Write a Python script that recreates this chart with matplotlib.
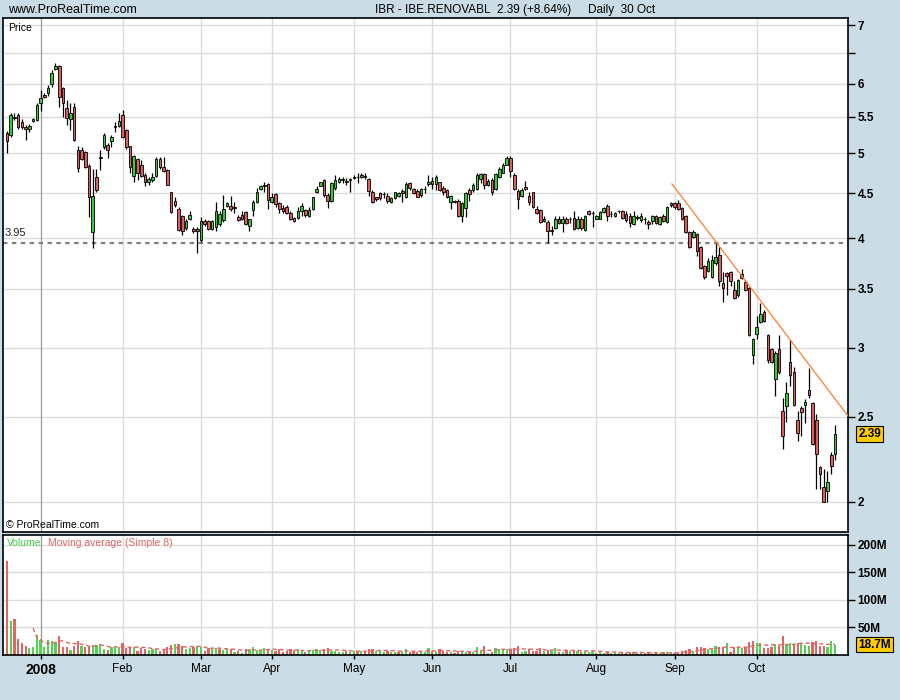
import matplotlib
matplotlib.use("Agg")
import matplotlib.pyplot as plt
import numpy as np
import pandas as pd

# ---------------- data ----------------
opens = [5.27,5.24,5.48,5.53,5.43,5.36,5.33,5.44,5.46,5.70,5.83,5.85,5.99,6.23,6.28,5.94,5.63,5.47,5.64,5.04,
         5.04,5.01,4.83,4.06,4.70,4.95,5.08,5.11,5.16,5.35,5.37,5.53,5.31,5.09,4.71,4.92,4.85,4.72,4.63,4.66,
         4.71,4.92,4.82,4.78,4.51,4.41,4.32,4.24,4.11,4.21,4.10,4.10,3.98,4.18,4.18,4.10,4.12,4.15,4.19,4.35,
         4.35,4.34,4.23,4.25,4.28,4.13,4.31,4.40,4.55,4.59,4.61,4.40,4.49,4.39,4.33,4.34,4.27,4.22,4.22,4.30,
         4.31,4.24,4.32,4.52,4.59,4.66,4.48,4.41,4.56,4.64,4.66,4.65,4.66,4.68,4.69,4.70,4.71,4.67,4.52,4.45,
         4.50,4.49,4.47,4.40,4.44,4.47,4.53,4.45,4.62,4.55,4.53,4.48,4.55,4.61,4.65,4.61,4.63,4.56,4.54,4.40,
         4.41,4.41,4.24,4.33,4.54,4.54,4.55,4.67,4.73,4.60,4.66,4.55,4.69,4.75,4.85,4.93,4.72,4.53,4.47,4.57,
         4.47,4.51,4.32,4.31,4.18,4.17,4.08,4.11,4.21,4.16,4.21,4.21,4.22,4.11,4.21,4.09,4.29,4.27,4.21,4.21,
         4.28,4.35,4.26,4.24,4.29,4.30,4.26,4.24,4.15,4.22,4.19,4.20,4.17,4.18,4.24,4.15,4.24,4.17,4.36,4.38,
         4.39,4.33,4.24,4.06,4.01,4.04,3.91,3.72,3.67,3.61,3.75,3.83,3.55,3.65,3.66,3.49,3.44,3.64,3.56,3.51,
         2.94,3.11,3.21,3.29,3.10,2.99,2.76,2.99,2.54,2.57,2.89,2.81,2.48,2.56,2.58,2.68,2.59,2.48,2.19,2.08,
         2.06,2.26,2.27]
highs = [5.30,5.56,5.56,5.55,5.47,5.39,5.40,5.49,5.70,5.90,5.85,5.98,6.22,6.34,6.30,5.95,5.75,5.70,5.70,5.10,
         5.08,5.03,4.86,4.80,4.80,5.04,5.27,5.13,5.24,5.43,5.55,5.60,5.33,5.10,4.98,4.93,4.91,4.74,4.70,4.74,
         4.95,4.95,4.95,4.79,4.52,4.46,4.34,4.25,4.20,4.29,4.12,4.12,4.23,4.21,4.19,4.19,4.40,4.29,4.48,4.40,
         4.47,4.40,4.25,4.30,4.30,4.21,4.42,4.56,4.60,4.63,4.62,4.50,4.50,4.40,4.36,4.36,4.29,4.23,4.34,4.38,
         4.32,4.34,4.46,4.58,4.64,4.67,4.50,4.64,4.72,4.70,4.70,4.68,4.68,4.72,4.74,4.75,4.74,4.68,4.54,4.46,
         4.52,4.52,4.50,4.46,4.52,4.52,4.55,4.63,4.64,4.56,4.55,4.56,4.58,4.72,4.70,4.72,4.64,4.58,4.55,4.48,
         4.42,4.43,4.40,4.51,4.56,4.62,4.74,4.74,4.74,4.67,4.68,4.75,4.82,4.87,4.96,4.96,4.75,4.55,4.56,4.65,
         4.52,4.52,4.35,4.32,4.24,4.19,4.13,4.24,4.24,4.24,4.23,4.23,4.30,4.24,4.23,4.25,4.31,4.29,4.25,4.30,
         4.34,4.37,4.29,4.28,4.31,4.31,4.29,4.27,4.29,4.25,4.27,4.23,4.19,4.25,4.25,4.24,4.26,4.35,4.40,4.40,
         4.42,4.34,4.25,4.07,4.09,4.05,3.92,3.73,3.80,3.83,3.95,3.91,3.66,3.66,3.67,3.57,3.59,3.69,3.58,3.52,
         3.08,3.26,3.37,3.31,3.11,3.00,2.97,3.10,2.63,2.74,3.06,2.85,2.54,2.57,2.62,2.84,2.60,2.52,2.20,2.18,
         2.17,2.28,2.45]
lows = [5.00,5.22,5.45,5.32,5.32,5.18,5.28,5.43,5.44,5.58,5.78,5.81,5.95,6.22,5.65,5.50,5.38,5.31,5.16,4.76,
        4.91,4.81,4.23,3.90,4.52,4.78,5.06,4.93,5.08,5.29,5.36,5.20,5.06,4.74,4.63,4.66,4.70,4.58,4.60,4.64,
        4.70,4.80,4.76,4.60,4.27,4.34,4.08,4.03,4.09,4.19,4.05,3.85,3.96,4.13,4.09,4.09,4.07,4.13,4.17,4.34,
        4.29,4.27,4.18,4.19,4.14,4.08,4.24,4.39,4.54,4.51,4.32,4.39,4.34,4.27,4.27,4.26,4.19,4.17,4.21,4.24,
        4.23,4.23,4.31,4.50,4.58,4.46,4.33,4.40,4.54,4.62,4.62,4.60,4.52,4.67,4.62,4.68,4.67,4.47,4.39,4.41,
        4.42,4.44,4.39,4.39,4.43,4.46,4.40,4.44,4.54,4.49,4.45,4.46,4.50,4.58,4.55,4.54,4.53,4.48,4.44,4.32,
        4.38,4.23,4.17,4.23,4.41,4.52,4.54,4.62,4.55,4.58,4.48,4.54,4.68,4.74,4.84,4.70,4.54,4.32,4.46,4.54,
        4.36,4.33,4.26,4.16,4.17,3.95,4.03,4.10,4.15,4.06,4.15,4.16,4.09,4.10,4.09,4.07,4.25,4.12,4.20,4.20,
        4.27,4.18,4.23,4.23,4.27,4.21,4.17,4.12,4.14,4.19,4.17,4.15,4.10,4.15,4.15,4.14,4.17,4.16,4.34,4.32,
        4.31,4.19,4.05,3.90,4.00,3.82,3.69,3.59,3.66,3.60,3.73,3.53,3.38,3.44,3.53,3.41,3.43,3.59,3.48,3.09,
        2.87,3.07,3.20,3.21,2.88,2.88,2.64,2.80,2.30,2.47,2.71,2.57,2.35,2.38,2.46,2.63,2.32,2.07,2.07,2.00,
        2.00,2.15,2.23]
closes = [5.16,5.52,5.50,5.36,5.35,5.32,5.37,5.47,5.68,5.78,5.79,5.93,6.17,6.28,5.80,5.71,5.48,5.56,5.17,4.81,
          4.92,4.82,4.46,4.47,4.54,4.93,5.25,5.04,5.22,5.37,5.44,5.21,5.08,4.82,4.96,4.74,4.71,4.63,4.67,4.70,
          4.92,4.82,4.77,4.60,4.28,4.36,4.09,4.08,4.18,4.25,4.08,4.08,4.18,4.15,4.10,4.18,4.29,4.26,4.32,4.39,
          4.32,4.33,4.19,4.21,4.15,4.20,4.40,4.51,4.59,4.60,4.42,4.46,4.37,4.32,4.30,4.27,4.20,4.18,4.29,4.35,
          4.25,4.31,4.45,4.55,4.63,4.48,4.41,4.62,4.66,4.67,4.67,4.63,4.67,4.70,4.69,4.72,4.69,4.53,4.40,4.43,
          4.44,4.49,4.41,4.44,4.51,4.50,4.50,4.61,4.56,4.50,4.46,4.55,4.55,4.63,4.61,4.70,4.54,4.51,4.45,4.47,
          4.40,4.24,4.38,4.50,4.49,4.60,4.72,4.73,4.60,4.65,4.51,4.73,4.80,4.85,4.93,4.77,4.55,4.43,4.54,4.55,
          4.40,4.34,4.27,4.17,4.21,4.07,4.08,4.21,4.16,4.21,4.16,4.20,4.10,4.21,4.11,4.24,4.26,4.27,4.24,4.28,
          4.33,4.24,4.26,4.27,4.29,4.22,4.19,4.16,4.24,4.22,4.24,4.20,4.15,4.24,4.16,4.23,4.18,4.34,4.38,4.34,
          4.32,4.20,4.06,3.91,4.06,3.87,3.70,3.61,3.77,3.78,3.81,3.57,3.51,3.62,3.57,3.42,3.58,3.60,3.49,3.10,
          3.07,3.17,3.28,3.22,2.90,2.89,2.96,2.81,2.38,2.66,2.79,2.58,2.40,2.53,2.60,2.65,2.33,2.27,2.15,2.00,
          2.11,2.20,2.39]
volumes_m = [171,61,65,29,21,17,12,15,36,28,15,27,25,24,35,14,15,9,17,25,
             17,14,15,18,18,20,11,9,14,14,14,21,13,15,15,8,12,11,9,10,
             10,8,11,14,18,20,20,16,10,12,14,16,15,8,12,12,12,11,9,10,
             10,6,8,4,10,11,14,9,8,12,11,9,8,10,5,8,10,8,10,8,
             6,8,9,10,9,10,12,8,8,6,5,8,5,8,6,8,8,10,10,8,
             8,6,8,6,5,6,8,11,6,5,6,8,6,13,8,6,10,8,5,6,
             4,8,7,6,5,6,15,9,16,4,6,12,11,11,11,11,12,16,6,8,
             11,8,8,12,8,9,8,12,6,6,9,8,9,8,5,8,6,8,4,6,
             4,5,4,5,4,5,4,5,5,4,5,4,5,3,4,4,4,5,4,4,
             5,8,9,10,8,14,15,12,11,12,16,15,15,22,5,15,15,12,14,24,
             25,22,22,12,12,15,20,16,35,18,22,18,21,22,19,16,23,25,17,17,
             14,26,18.7]

month_labels = ["2008", "Feb", "Mar", "Apr", "May", "Jun", "Jul", "Aug", "Sep", "Oct"]
month_start_idx = [9, 31, 52, 71, 93, 114, 135, 158, 179, 201]

price_ticks = [2, 2.5, 3, 3.5, 4, 4.5, 5, 5.5, 6, 6.5, 7]
price_tick_labels = ["2", "2.5", "3", "3.5", "4", "4.5", "5", "5.5", "6", "", "7"]
vol_ticks = [50, 100, 150, 200]
vol_tick_labels = ["50M", "100M", "150M", "200M"]

support_level = 3.95
trend_x = [178.3, 225.4]
trend_y = [4.61, 2.51]

title_main = "IBR - IBE.RENOVABL"
title_price = "2.39 (+8.64%)"
title_period = "Daily  30 Oct"
last_price = 2.39
last_volume = 18.7

# ---------------- style ----------------
BG = "#CADCE5"
GREEN = "#3CC83C"
RED = "#DC5F5F"
VGREEN = "#55D055"
VRED = "#E06666"
GRID = "#DCDCDC"
SANS = ["Liberation Sans", "DejaVu Sans"]

W, H = 900, 700
fig = plt.figure(figsize=(9, 7), dpi=100, facecolor=BG)

def fx(px):
    return px / W

def fy(py):
    return 1 - py / H

ax = fig.add_axes([fx(3), fy(532), fx(845), 514 / H])
axv = fig.add_axes([fx(3), fy(655), fx(845), 120 / H])

n = len(closes)
idx = np.arange(n)
xlo, xhi = -1.07, 225.5

# ---------------- price panel ----------------
ax.set_facecolor("white")
ax.set_yscale("log")
ax.set_xlim(xlo, xhi)
ax.set_ylim(1.848, 7.13)
for t in price_ticks:
    ax.axhline(t, color=GRID, lw=1, zorder=0)
for k, m in enumerate(month_start_idx):
    ax.axvline(m, color="#A0A0A0" if k == 0 else GRID, lw=1, zorder=0)

ax.axhline(support_level, color="#808080", lw=1.6, ls=(0, (2, 2)), zorder=1)

o = np.array(opens); c = np.array(closes); hi = np.array(highs); lo = np.array(lows)
ax.vlines(idx, lo, hi, color="black", lw=0.9, zorder=2)
body_bottom = np.minimum(o, c)
body_h = np.maximum(np.abs(c - o), 0.004)
cols = [GREEN if cc >= oo else RED for oo, cc in zip(o, c)]
ax.bar(idx, body_h, bottom=body_bottom, width=0.7, color=cols,
       edgecolor="black", linewidth=0.6, zorder=3)

ax.plot(trend_x, trend_y, color="#FF7F2A", lw=0.9, zorder=4)

ax.yaxis.tick_right()
ax.yaxis.set_major_locator(matplotlib.ticker.FixedLocator(price_ticks))
ax.yaxis.set_minor_locator(matplotlib.ticker.NullLocator())
ax.set_yticklabels(price_tick_labels)
ax.tick_params(axis="y", direction="out", length=5, width=1, pad=2,
               labelsize=8.5, colors="black")
for lab in ax.get_yticklabels():
    lab.set_fontweight("bold")
    lab.set_family(SANS)
ax.set_xticks([])
for s in ax.spines.values():
    s.set_linewidth(1.2)
    s.set_color("black")

ax.text(0.006, 0.99, "Price", transform=ax.transAxes, ha="left", va="top",
        fontsize=7.5, family=SANS)
ax.text(2 / 845, support_level * 1.012, "3.95", transform=ax.get_yaxis_transform(),
        ha="left", va="bottom", fontsize=8, family=SANS, color="#222222")
ax.text(0.003, 0.004, "\u00a9 ProRealTime.com", transform=ax.transAxes, ha="left",
        va="bottom", fontsize=7.5, family=SANS)

ax.annotate(f"{last_price:.2f}", xy=(1.012, last_price),
            xycoords=("axes fraction", "data"), ha="left", va="center",
            fontsize=8.5, fontweight="bold", family=SANS,
            bbox=dict(boxstyle="square,pad=0.15", fc="#FFCC00", ec="black", lw=0.8))

# ---------------- volume panel ----------------
axv.set_facecolor("white")
axv.set_xlim(xlo, xhi)
axv.set_ylim(0, 218)
for t in vol_ticks:
    axv.axhline(t, color=GRID, lw=1, zorder=0)
for k, m in enumerate(month_start_idx):
    axv.axvline(m, color="#A0A0A0" if k == 0 else GRID, lw=1, zorder=0)

vol = np.array(volumes_m, dtype=float)
prev_c = np.concatenate([[c[0] + 1], c[:-1]])
vcols = [VGREEN if cc >= pc else VRED for cc, pc in zip(c, prev_c)]
axv.bar(idx, vol, width=0.6, color=vcols, linewidth=0, zorder=2)
ma = pd.Series(vol).rolling(8).mean()
axv.plot(idx, ma, color=VRED, lw=1.0, ls=(0, (3, 2)), zorder=3)

axv.yaxis.tick_right()
axv.set_yticks(vol_ticks)
axv.set_yticklabels(vol_tick_labels)
axv.tick_params(axis="y", direction="out", length=5, width=1, pad=2,
                labelsize=8.5, colors="black")
for lab in axv.get_yticklabels():
    lab.set_fontweight("bold")
    lab.set_family(SANS)
axv.set_xticks(month_start_idx)
axv.set_xticklabels(month_labels)
axv.tick_params(axis="x", direction="out", length=3, width=1, pad=3, labelsize=8.5)
for k, lab in enumerate(axv.get_xticklabels()):
    lab.set_family(SANS)
    if k == 0:
        lab.set_fontweight("bold")
        lab.set_fontsize(10)
for s in axv.spines.values():
    s.set_linewidth(1.2)
    s.set_color("black")

fig.text(fx(7), fy(543), "Volume", color="#44CC44", fontsize=7.5, family=SANS,
         ha="left", va="center")
fig.text(fx(48), fy(543), "Moving average (Simple 8)", color=VRED, fontsize=7.5,
         family=SANS, ha="left", va="center")

axv.annotate(f"{last_volume}M", xy=(1.012, last_volume),
             xycoords=("axes fraction", "data"), ha="left", va="center",
             fontsize=8.5, fontweight="bold", family=SANS,
             bbox=dict(boxstyle="square,pad=0.15", fc="#FFCC00", ec="black", lw=0.8))

# ---------------- header ----------------
fig.text(fx(8), fy(10), "www.ProRealTime.com", fontsize=9, family=SANS,
         ha="left", va="center")
fig.text(fx(375), fy(10), title_main, fontsize=8.5, family=SANS, ha="left", va="center")
fig.text(fx(497), fy(10), title_price, fontsize=8.5, family=SANS, ha="left", va="center")
fig.text(fx(588), fy(10), title_period, fontsize=8.5, family=SANS, ha="left", va="center")

fig.savefig("out.png", dpi=100, facecolor=BG)
